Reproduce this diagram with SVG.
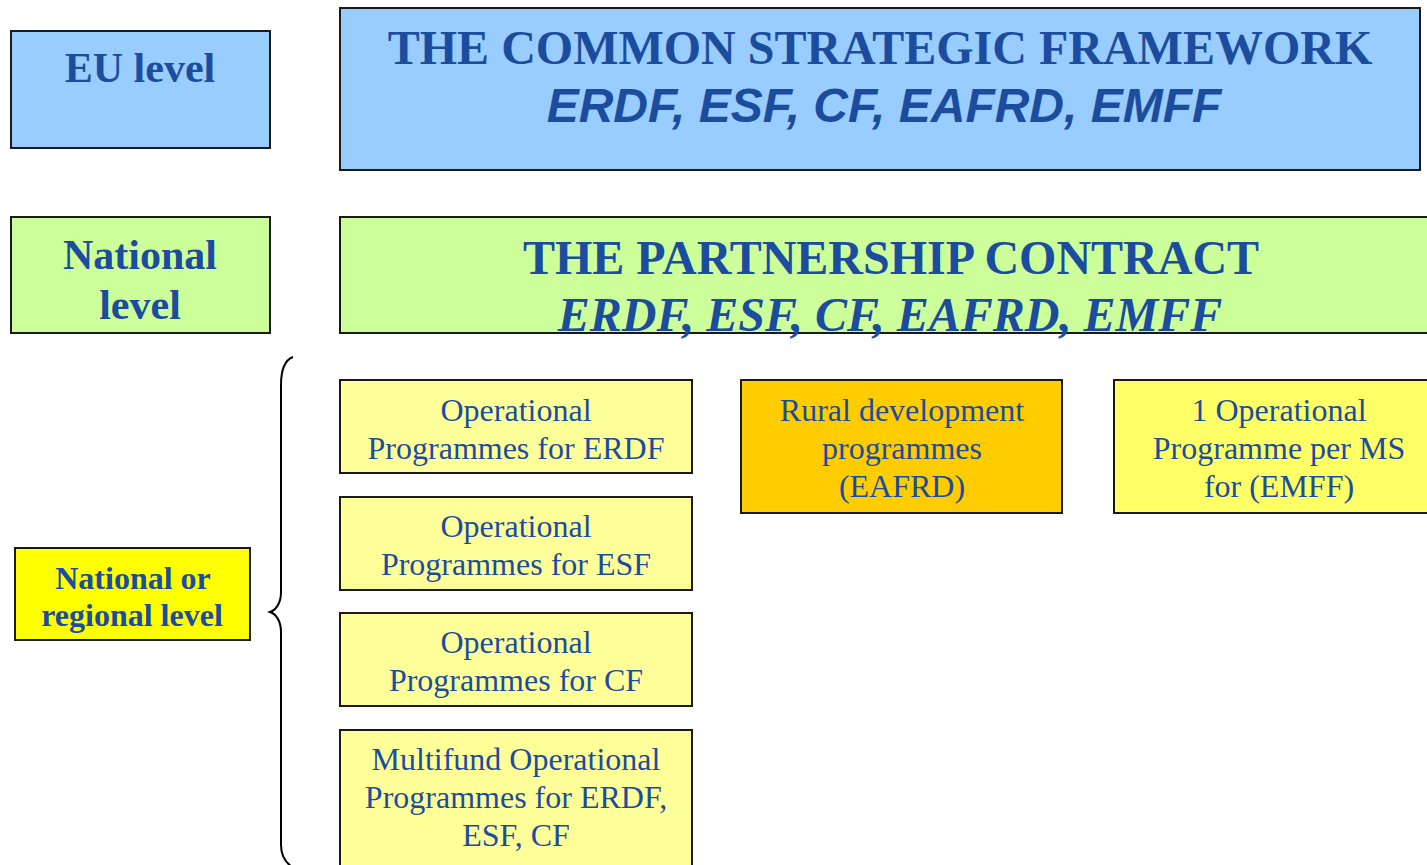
<svg xmlns="http://www.w3.org/2000/svg" width="1427" height="865" viewBox="0 0 1427 865">
<style>
.box{stroke:#1a1a1a;stroke-width:2}
.blue{fill:#99ccff}
.green{fill:#ccff99}
.yel{fill:#ffff00}
.pale{fill:#ffff99}
.orange{fill:#ffcc00}
.lemon{fill:#ffff66}
text{fill:#1c4c9e;text-anchor:middle}
.lvl{font-family:"Liberation Serif","Times New Roman",serif;font-weight:bold;font-size:42px}
.lvl2{font-family:"Liberation Serif","Times New Roman",serif;font-weight:bold;font-size:32px}
.title{font-family:"Liberation Serif","Times New Roman",serif;font-weight:bold;font-size:48px}
.sub1{font-family:"Liberation Sans",Arial,sans-serif;font-weight:bold;font-style:italic;font-size:48px}
.sub2{font-family:"Liberation Serif","Times New Roman",serif;font-weight:bold;font-style:italic;font-size:48px}
.op{font-family:"Liberation Serif","Times New Roman",serif;font-size:32px}
.brace{fill:none;stroke:#000;stroke-width:2}
</style>
<g id="eu-level">
<rect class="box blue" x="11" y="31" width="259" height="117"/>
<text class="lvl" x="140" y="82">EU level</text>
</g>
<g id="csf">
<rect class="box blue" x="340" y="8" width="1080" height="162"/>
<text class="title" x="880" y="64">THE COMMON STRATEGIC FRAMEWORK</text>
<text class="sub1" x="884" y="122">ERDF, ESF, CF, EAFRD, EMFF</text>
</g>
<g id="national-level">
<rect class="box green" x="11" y="217" width="259" height="116"/>
<text class="lvl" x="140" y="269">National</text>
<text class="lvl" x="140" y="319">level</text>
</g>
<g id="partnership">
<rect class="box green" x="340" y="217" width="1090" height="116"/>
<text class="title" x="891" y="274">THE PARTNERSHIP CONTRACT</text>
<text class="sub2" x="890" y="331">ERDF, ESF, CF, EAFRD, EMFF</text>
</g>
<g id="regional-level">
<rect class="box yel" x="15" y="548" width="235" height="92"/>
<text class="lvl2" x="133" y="589">National or</text>
<text class="lvl2" x="132" y="626">regional level</text>
</g>
<g id="brace">
<path class="brace" d="M293,357 C285,360 281,368 281,385 L281,592 C281,603 276,610 270,612 C276,614 281,621 281,632 L281,845 C281,856 285,862 292,867"/>
</g>
<g id="op-erdf">
<rect class="box pale" x="340" y="380" width="352" height="93"/>
<text class="op" x="516" y="421">Operational</text>
<text class="op" x="516" y="459">Programmes for ERDF</text>
</g>
<g id="op-esf">
<rect class="box pale" x="340" y="497" width="352" height="93"/>
<text class="op" x="516" y="537">Operational</text>
<text class="op" x="516" y="575">Programmes for ESF</text>
</g>
<g id="op-cf">
<rect class="box pale" x="340" y="613" width="352" height="93"/>
<text class="op" x="516" y="653">Operational</text>
<text class="op" x="516" y="691">Programmes for CF</text>
</g>
<g id="op-multifund">
<rect class="box pale" x="340" y="730" width="352" height="145"/>
<text class="op" x="516" y="770">Multifund Operational</text>
<text class="op" x="516" y="808">Programmes for ERDF,</text>
<text class="op" x="516" y="846">ESF, CF</text>
</g>
<g id="rural">
<rect class="box orange" x="741" y="380" width="321" height="133"/>
<text class="op" x="902" y="421">Rural development</text>
<text class="op" x="902" y="459">programmes</text>
<text class="op" x="902" y="497">(EAFRD)</text>
</g>
<g id="emff">
<rect class="box lemon" x="1114" y="380" width="320" height="133"/>
<text class="op" x="1279" y="421">1 Operational</text>
<text class="op" x="1279" y="459">Programme per MS</text>
<text class="op" x="1279" y="497">for (EMFF)</text>
</g>
</svg>
